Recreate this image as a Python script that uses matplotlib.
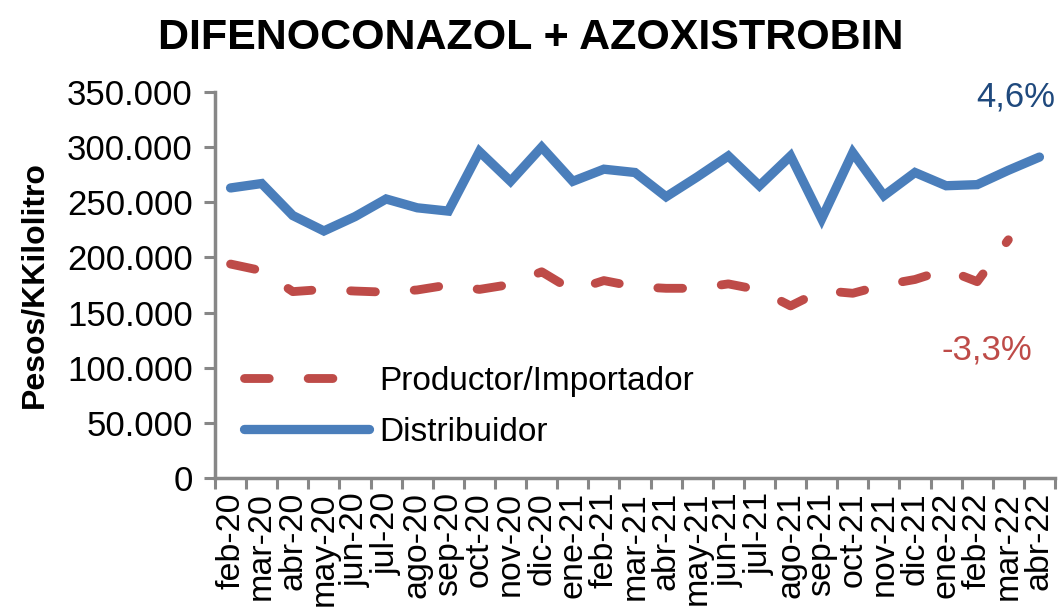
import matplotlib
matplotlib.use("Agg")
import matplotlib.pyplot as plt
import numpy as np

months = ["feb-20", "mar-20", "abr-20", "may-20", "jun-20", "jul-20", "ago-20", "sep-20",
          "oct-20", "nov-20", "dic-20", "ene-21", "feb-21", "mar-21", "abr-21", "may-21",
          "jun-21", "jul-21", "ago-21", "sep-21", "oct-21", "nov-21", "dic-21", "ene-22",
          "feb-22", "mar-22", "abr-22"]

distribuidor = [263000, 267000, 238000, 224000, 237000, 253000, 245000, 242000,
                296000, 269000, 300000, 269000, 280000, 277000, 255000, 273000,
                292000, 265000, 292000, 235000, 295000, 256000, 277000, 265000,
                266000, 279000, 291000]

productor = [194000, 188000, 169000, 171000, 169500, 168500, 170500, 175000,
             171000, 175500, 187000, 170000, 179000, 173500, 172000, 172000,
             176000, 170500, 156000, 170000, 167500, 175000, 180000, 189000,
             178000, 216000, np.nan]

yticks = [0, 50000, 100000, 150000, 200000, 250000, 300000, 350000]
ytick_labels = ["0", "50.000", "100.000", "150.000", "200.000", "250.000", "300.000", "350.000"]

title = "DIFENOCONAZOL + AZOXISTROBIN"
ylabel = "Pesos/KKilolitro"
label_prod = "Productor/Importador"
label_dist = "Distribuidor"
ann_dist = "4,6%"
ann_prod = "-3,3%"

blue = "#4A7EBB"
red = "#BE4B48"
spine_c = "#878787"

plt.rcParams['font.family'] = ['Liberation Sans', 'DejaVu Sans']

fig = plt.figure(figsize=(10.61, 6.09), dpi=100)
ax = fig.add_axes([215/1061, 1-478/609, (1055-215)/1061, (478-92)/609])

x = np.arange(len(months))
lw = 6.7
ax.plot(x, distribuidor, color=blue, lw=lw, solid_capstyle='round',
        solid_joinstyle='miter', label=label_dist)
ax.plot(x, productor, color=red, lw=lw * 0.95, dashes=(2.8, 4.4),
        dash_capstyle='round', dash_joinstyle='round', label=label_prod)

ax.set_xlim(-0.5, len(months) - 0.5)
ax.set_ylim(0, 350000)
ax.set_yticks(yticks)
ax.set_yticklabels(ytick_labels, fontsize=25)
ax.set_xticks(x)
ax.set_xticklabels(months, rotation=90, fontsize=24.5)
ax.set_xticks(np.arange(-0.5, len(months)), minor=True)
ax.tick_params(axis='x', which='major', length=0, pad=10)
ax.tick_params(axis='x', which='minor', length=8, width=2.2, color=spine_c)
ax.tick_params(axis='y', length=8, width=2.2, color=spine_c, pad=8)
for s in ['top', 'right']:
    ax.spines[s].set_visible(False)
for s in ['left', 'bottom']:
    ax.spines[s].set_color(spine_c)
    ax.spines[s].set_linewidth(2.5)

ax.set_ylabel(ylabel, fontsize=23, fontweight='bold')
ax.yaxis.set_label_coords(-0.197, 0.5)

fig.text(0.5, 1 - 38/609, title, fontsize=31, fontweight='bold', ha='center', va='center')

fig.text(1055/1061, 1 - 97/609, ann_dist, fontsize=25,
         color="#1F497D", ha='right', va='center')
fig.text(1032/1061, 1 - 350/609, ann_prod, fontsize=25,
         color=red, ha='right', va='center')

h1, l1 = ax.get_legend_handles_labels()
leg = ax.legend([h1[1], h1[0]], [l1[1], l1[0]], loc='upper left',
                bbox_to_anchor=(244/1061, 1-366/609), bbox_transform=fig.transFigure,
                frameon=False, fontsize=24, handlelength=3.75, handletextpad=0.3,
                labelspacing=0.6, borderaxespad=0, borderpad=0)

fig.savefig("out.png", dpi=100)
